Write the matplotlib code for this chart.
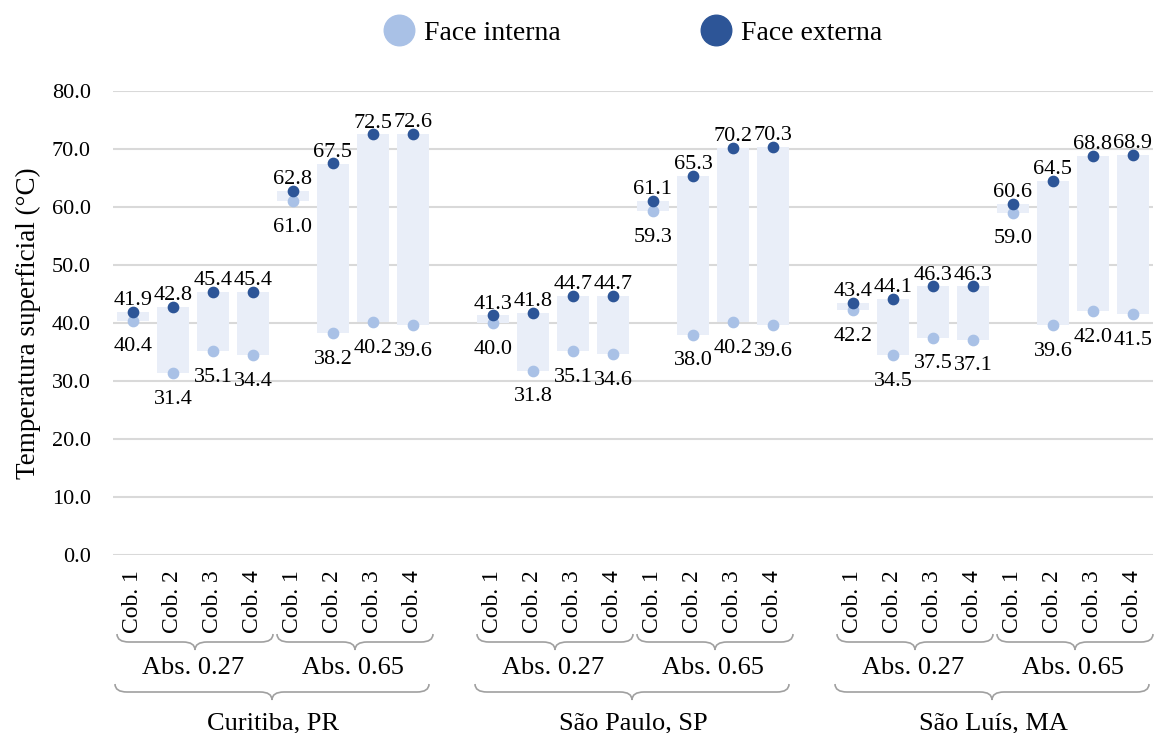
import numpy as np
import matplotlib
matplotlib.use('Agg')
import matplotlib.pyplot as plt
from matplotlib.path import Path
from matplotlib.patches import PathPatch
from matplotlib.lines import Line2D
from matplotlib.transforms import blended_transform_factory

plt.rcParams['font.family'] = 'Liberation Serif'

cities = ['Curitiba, PR', 'São Paulo, SP', 'São Luís, MA']
abs_labels = ['Abs. 0.27', 'Abs. 0.65']
cob_labels = ['Cob. 1', 'Cob. 2', 'Cob. 3', 'Cob. 4']

# face externa / face interna, per city, Abs 0.27 then Abs 0.65
externa = [41.9, 42.8, 45.4, 45.4, 62.8, 67.5, 72.5, 72.6,
           41.3, 41.8, 44.7, 44.7, 61.1, 65.3, 70.2, 70.3,
           43.4, 44.1, 46.3, 46.3, 60.6, 64.5, 68.8, 68.9]
interna = [40.4, 31.4, 35.1, 34.4, 61.0, 38.2, 40.2, 39.6,
           40.0, 31.8, 35.1, 34.6, 59.3, 38.0, 40.2, 39.6,
           42.2, 34.5, 37.5, 37.1, 59.0, 39.6, 42.0, 41.5]

c_int = '#a9c1e6'
c_ext = '#2d5597'
c_bar = '#e9eef8'

W, H = 1167, 733
fig = plt.figure(figsize=(W / 100, H / 100), dpi=100)
ax = fig.add_axes([113 / W, 1 - 555 / H, 1040 / W, 464 / H])

# positions: 8 slots per city plus one blank slot between cities
xs = []
for c in range(3):
    xs += [c * 9 + k for k in range(8)]
xs = np.array(xs)
ext = np.array(externa)
inn = np.array(interna)

ax.bar(xs, ext - inn, bottom=inn, width=0.8, color=c_bar, zorder=2)
ax.scatter(xs, inn, s=55, color=c_int, zorder=3)
ax.scatter(xs, ext, s=55, color=c_ext, zorder=3)

for x, e, i in zip(xs, ext, inn):
    ax.annotate(f'{e:.1f}', (x, e), xytext=(0, 5), textcoords='offset points',
                ha='center', va='baseline', fontsize=16, zorder=4)
    ax.annotate(f'{i:.1f}', (x, i), xytext=(0, -12), textcoords='offset points',
                ha='center', va='top', fontsize=16, zorder=4)

ax.set_ylim(0, 80)
ax.set_xlim(-0.5, 25.5)
ax.set_yticks(np.arange(0, 81, 10))
ax.set_yticklabels([f'{v:.1f}' for v in np.arange(0, 81, 10)], fontsize=16)
ax.set_xticks(xs)
ax.set_xticklabels(cob_labels * 6, rotation=90, fontsize=17)
ax.tick_params(axis='both', length=0)
ax.tick_params(axis='x', pad=11)
ax.tick_params(axis='y', pad=16)
ax.yaxis.grid(True, color='#d9d9d9', linewidth=1.5, zorder=0)
ax.set_axisbelow(True)
for s in ax.spines.values():
    s.set_visible(False)
ax.set_ylabel('Temperatura superficial (°C)', fontsize=19.5, labelpad=8)

# curly braces under the axis
tr = blended_transform_factory(ax.transData, fig.transFigure)


def brace(x0, x1, ytop, h, r=0.3):
    yt = 1 - ytop / H
    ym = 1 - (ytop + h / 2) / H
    yb = 1 - (ytop + h) / H
    xc = (x0 + x1) / 2
    verts = [(x0, yt), (x0, ym), (x0 + r, ym), (xc - r, ym), (xc, ym), (xc, yb),
             (xc, ym), (xc + r, ym), (x1 - r, ym), (x1, ym), (x1, yt)]
    codes = [Path.MOVETO, Path.CURVE3, Path.CURVE3, Path.LINETO, Path.CURVE3, Path.CURVE3,
             Path.CURVE3, Path.CURVE3, Path.LINETO, Path.CURVE3, Path.CURVE3]
    p = PathPatch(Path(verts, codes), transform=tr, fill=False, edgecolor='#a0a0a0',
                  linewidth=1.2, clip_on=False)
    fig.add_artist(p)


for c in range(3):
    for a in range(2):
        x0 = c * 9 + a * 4
        brace(x0 - 0.4, x0 + 3.5, 634, 16)
        fig.text(x0 + 1.5, 1 - 668 / H, abs_labels[a], transform=tr, fontsize=19,
                 ha='center', va='center')
    brace(c * 9 - 0.45, c * 9 + 7.4, 684, 16)
    fig.text(c * 9 + 3.5, 1 - 723 / H, cities[c], transform=tr, fontsize=19,
             ha='center', va='center')

handles = [Line2D([], [], marker='o', linestyle='', markersize=22, color=c_int),
           Line2D([], [], marker='o', linestyle='', markersize=22, color=c_ext)]
fig.legend(handles, ['Face interna', 'Face externa'], loc='center',
           bbox_to_anchor=(0.543, 1 - 33 / H), ncol=2, frameon=False, fontsize=20,
           handlelength=1.0, handletextpad=0.4, columnspacing=5.1)

fig.savefig('out.png', dpi=100)
